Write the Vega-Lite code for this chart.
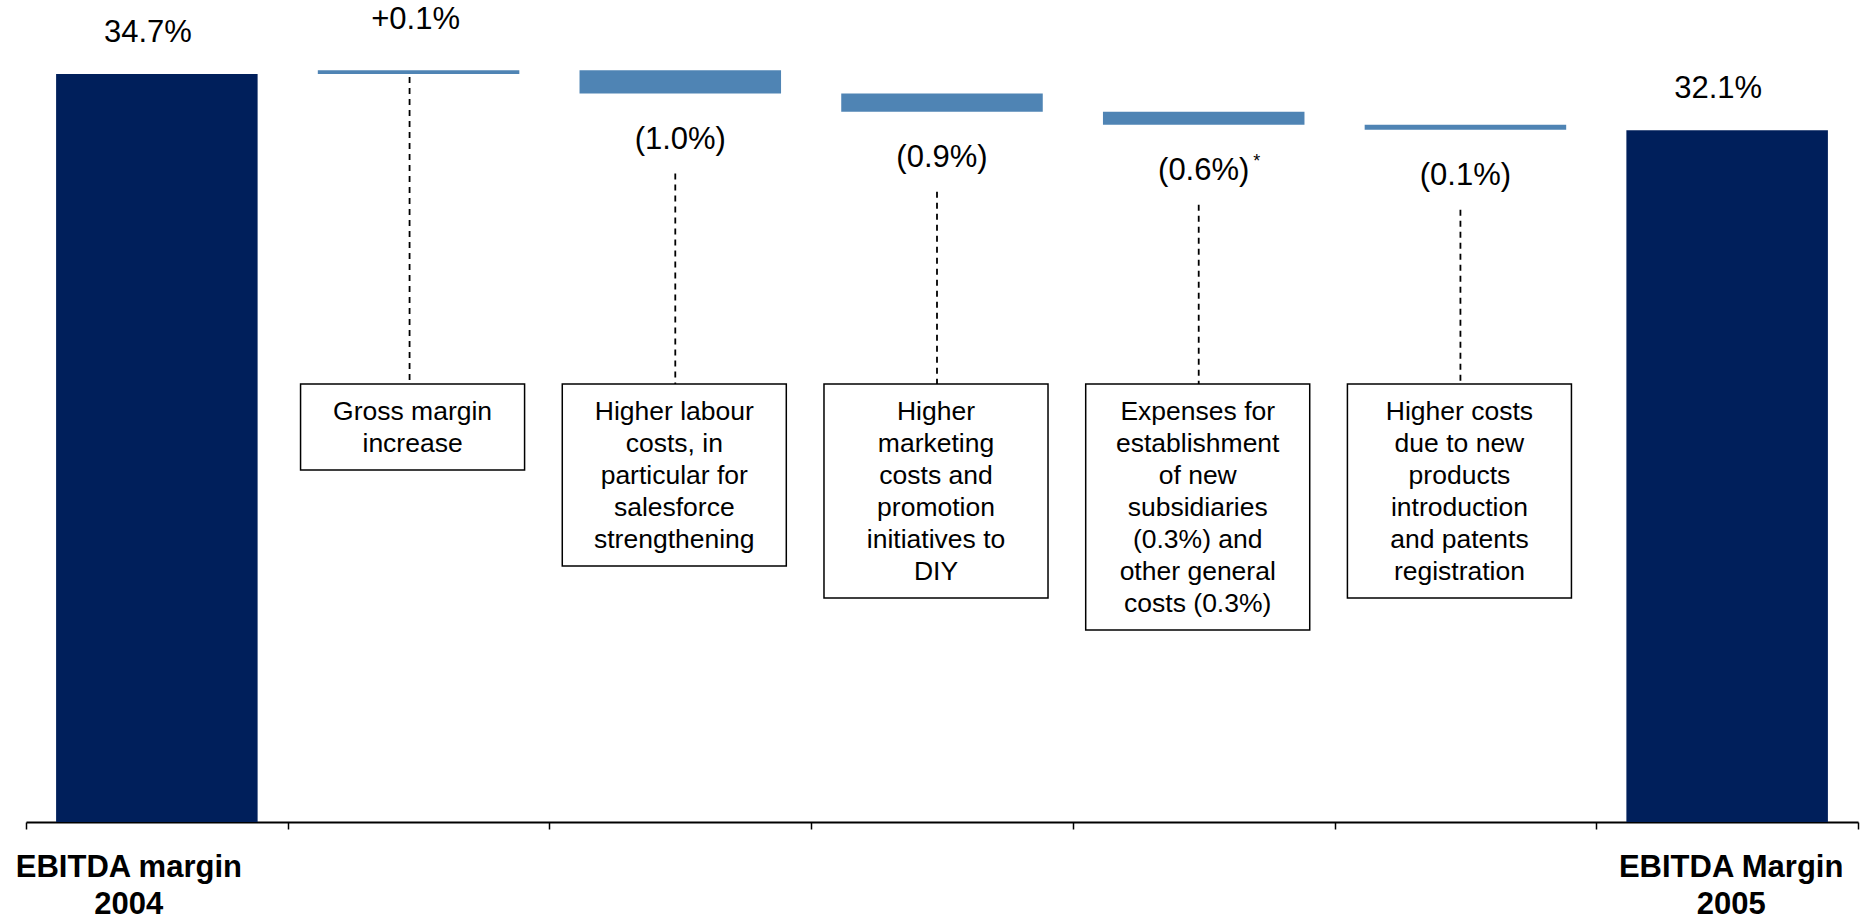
{
  "$schema": "https://vega.github.io/schema/vega-lite/v6.json",
  "width": 1832,
  "height": 819,
  "autosize": {"type": "none"},
  "padding": {"left": 26, "top": 3, "right": 5, "bottom": 100},
  "background": "white",
  "config": {"view": {"stroke": null}, "font": "Liberation Sans"},
  "data": {
    "values": [
      {"cat": "EBITDA margin 2004", "start": 0, "end": 34.7, "kind": "total", "label": "34.7%", "axis": ["EBITDA margin", "2004"], "note": null, "mark": null},
      {"cat": "Gross margin", "start": 34.7, "end": 34.88, "kind": "up", "label": "+0.1%", "axis": null, "note": ["Gross margin", "increase"], "mark": null},
      {"cat": "Labour", "start": 34.88, "end": 33.8, "kind": "down", "label": "(1.0%)", "axis": null, "note": ["Higher labour", "costs, in", "particular for", "salesforce", "strengthening"], "mark": null},
      {"cat": "Marketing", "start": 33.8, "end": 32.95, "kind": "down", "label": "(0.9%)", "axis": null, "note": ["Higher", "marketing", "costs and", "promotion", "initiatives to", "DIY"], "mark": null},
      {"cat": "Subsidiaries", "start": 32.95, "end": 32.35, "kind": "down", "label": "(0.6%)", "axis": null, "note": ["Expenses for", "establishment", "of new", "subsidiaries", "(0.3%) and", "other general", "costs (0.3%)"], "mark": "*"},
      {"cat": "New products", "start": 32.35, "end": 32.12, "kind": "down", "label": "(0.1%)", "axis": null, "note": ["Higher costs", "due to new", "products", "introduction", "and patents", "registration"], "mark": null},
      {"cat": "EBITDA Margin 2005", "start": 0, "end": 32.1, "kind": "total", "label": "32.1%", "axis": ["EBITDA Margin", "2005"], "note": null, "mark": null}
    ]
  },
  "transform": [
    {"calculate": "20.32", "as": "box_top"},
    {"calculate": "datum.note != null ? 20.32 - 1.02 - 1.485 * length(datum.note) : null", "as": "box_bottom"}
  ],
  "encoding": {
    "x": {
      "field": "cat",
      "type": "nominal",
      "sort": null,
      "scale": {"paddingInner": 0, "paddingOuter": 0},
      "axis": {
        "title": null,
        "labels": false,
        "tickBand": "extent",
        "domainColor": "#000000",
        "domainWidth": 2,
        "tickColor": "#000000",
        "tickWidth": 1.5,
        "tickSize": 7,
        "grid": false
      }
    }
  },
  "layer": [
    {
      "mark": {"type": "bar", "width": {"band": 0.77}},
      "encoding": {
        "y": {"field": "start", "type": "quantitative", "scale": {"domain": [0, 38], "nice": false, "zero": true}, "axis": null},
        "y2": {"field": "end"},
        "color": {"field": "kind", "type": "nominal", "scale": {"domain": ["total", "up", "down"], "range": ["#001F5B", "#4F84B4", "#4F84B4"]}, "legend": null}
      }
    },
    {
      "transform": [{"filter": "datum.kind == 'total'"}],
      "mark": {"type": "text", "fontSize": 31, "dy": -32, "dx": -9, "baseline": "alphabetic", "color": "#000000"},
      "encoding": {
        "y": {"field": "end", "type": "quantitative"},
        "text": {"field": "label", "type": "nominal"}
      }
    },
    {
      "transform": [{"filter": "datum.kind == 'up'"}],
      "mark": {"type": "text", "fontSize": 31, "dy": -41, "dx": -3, "baseline": "alphabetic", "color": "#000000"},
      "encoding": {
        "y": {"field": "end", "type": "quantitative"},
        "text": {"field": "label", "type": "nominal"}
      }
    },
    {
      "transform": [{"filter": "datum.kind == 'down'"}],
      "mark": {"type": "text", "fontSize": 31, "dy": 55, "baseline": "alphabetic", "color": "#000000"},
      "encoding": {
        "y": {"field": "end", "type": "quantitative"},
        "text": {"field": "label", "type": "nominal"}
      }
    },
    {
      "transform": [{"filter": "datum.mark != null"}],
      "mark": {"type": "text", "fontSize": 18, "dy": 42, "dx": 53, "baseline": "alphabetic", "color": "#000000"},
      "encoding": {
        "y": {"field": "end", "type": "quantitative"},
        "text": {"field": "mark", "type": "nominal"}
      }
    },
    {
      "transform": [{"filter": "datum.kind == 'up'"}],
      "mark": {"type": "rule", "color": "#000000", "strokeWidth": 1.8, "strokeDash": [6, 5], "yOffset": 3, "xOffset": -9},
      "encoding": {
        "y": {"field": "start", "type": "quantitative"},
        "y2": {"field": "box_top"}
      }
    },
    {
      "transform": [{"filter": "datum.kind == 'down'"}],
      "mark": {"type": "rule", "color": "#000000", "strokeWidth": 1.8, "strokeDash": [6, 5], "yOffset": 80, "xOffset": -5},
      "encoding": {
        "y": {"field": "end", "type": "quantitative"},
        "y2": {"field": "box_top"}
      }
    },
    {
      "transform": [{"filter": "datum.note != null"}],
      "mark": {"type": "bar", "width": {"band": 0.856}, "fill": "#FFFFFF", "stroke": "#000000", "strokeWidth": 1.5, "xOffset": -6},
      "encoding": {
        "y": {"field": "box_top", "type": "quantitative"},
        "y2": {"field": "box_bottom"}
      }
    },
    {
      "transform": [{"filter": "datum.note != null"}],
      "mark": {"type": "text", "fontSize": 26.5, "lineHeight": 32, "dy": 36, "dx": -6, "baseline": "alphabetic", "align": "center", "color": "#000000"},
      "encoding": {
        "y": {"field": "box_top", "type": "quantitative"},
        "text": {"field": "note", "type": "nominal"}
      }
    },
    {
      "transform": [{"filter": "datum.cat == 'EBITDA margin 2004'"}],
      "mark": {"type": "text", "fontSize": 31, "fontWeight": "bold", "lineHeight": 37, "dy": 55, "dx": -28, "baseline": "alphabetic", "align": "center", "color": "#000000"},
      "encoding": {
        "y": {"datum": 0, "type": "quantitative"},
        "text": {"field": "axis", "type": "nominal"}
      }
    },
    {
      "transform": [{"filter": "datum.cat == 'EBITDA Margin 2005'"}],
      "mark": {"type": "text", "fontSize": 31, "fontWeight": "bold", "lineHeight": 37, "dy": 55, "dx": 4, "baseline": "alphabetic", "align": "center", "color": "#000000"},
      "encoding": {
        "y": {"datum": 0, "type": "quantitative"},
        "text": {"field": "axis", "type": "nominal"}
      }
    }
  ]
}
